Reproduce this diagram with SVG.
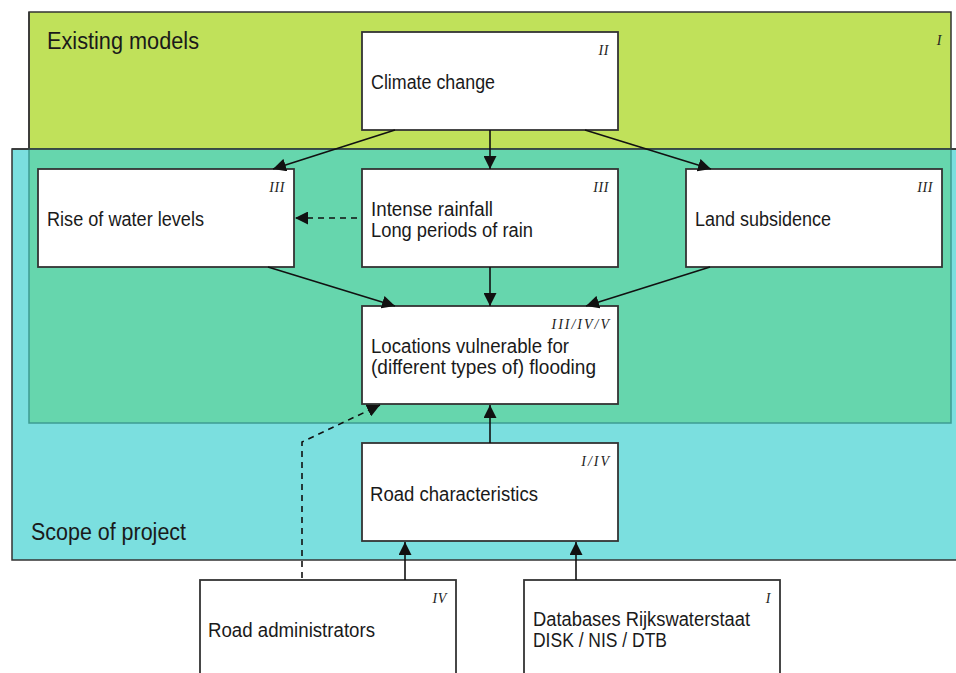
<svg xmlns="http://www.w3.org/2000/svg" width="956" height="673" viewBox="0 0 956 673">
  <defs>
    <marker id="arrow" markerUnits="userSpaceOnUse" markerWidth="14" markerHeight="13" refX="13" refY="6.5" orient="auto">
      <path d="M0,0 L13,6.5 L0,13 z" fill="#111"/>
    </marker>
    <style>
      .area-scope { fill: #7bdfdf; stroke: #333; stroke-width: 1.5; }
      .area-models { fill: #c0e15a; stroke: #333; stroke-width: 1.5; }
      .area-overlap { fill: #66d6ad; stroke: #3e9c92; stroke-width: 1.5; }
      .box { fill: #fff; stroke: #333; stroke-width: 1.8; }
      .label { font-family: "Liberation Sans", Arial, sans-serif; font-size: 20px; fill: #1a1a1a; }
      .area-label { font-family: "Liberation Sans", Arial, sans-serif; font-size: 23px; fill: #1a1a1a; }
      .tag { font-family: "Liberation Serif", "Times New Roman", serif; font-style: italic; font-size: 14px; fill: #222; text-anchor: end; letter-spacing: 0.6px; }
      .tag-wide { letter-spacing: 2px; }
      .link { fill: none; stroke: #111; stroke-width: 1.6; marker-end: url(#arrow); }
      .dashed { stroke-dasharray: 6 5; }
    </style>
  </defs>

  <!-- Background areas -->
  <g id="scope-area">
    <rect class="area-scope" x="12" y="149" width="960" height="411"/>
  </g>
  <g id="models-area">
    <rect class="area-models" x="29" y="12" width="922" height="137"/>
    <line x1="29" y1="12" x2="29" y2="149" stroke="#333" stroke-width="1.5"/>
    <rect class="area-overlap" x="29" y="149" width="922" height="274"/>
    <line x1="12" y1="149" x2="956" y2="149" stroke="#333" stroke-width="1.5"/>
    <text class="area-label" x="47" y="49" textLength="152" lengthAdjust="spacingAndGlyphs">Existing models</text>
    <text class="tag" x="942" y="45">I</text>
  </g>
  <text class="area-label" x="31" y="540" textLength="155" lengthAdjust="spacingAndGlyphs">Scope of project</text>

  <!-- Nodes -->
  <g id="climate-change">
    <rect class="box" x="362" y="32" width="256" height="98"/>
    <text class="tag" x="609" y="55">II</text>
    <text class="label" x="371" y="89" textLength="124" lengthAdjust="spacingAndGlyphs">Climate change</text>
  </g>

  <g id="rise-water-levels">
    <rect class="box" x="38" y="169" width="256" height="98"/>
    <text class="tag" x="285" y="192">III</text>
    <text class="label" x="47" y="226" textLength="157" lengthAdjust="spacingAndGlyphs">Rise of water levels</text>
  </g>

  <g id="intense-rainfall">
    <rect class="box" x="362" y="169" width="256" height="98"/>
    <text class="tag" x="609" y="192">III</text>
    <text class="label" x="371" y="216" textLength="122" lengthAdjust="spacingAndGlyphs">Intense rainfall</text>
    <text class="label" x="371" y="237" textLength="162" lengthAdjust="spacingAndGlyphs">Long periods of rain</text>
  </g>

  <g id="land-subsidence">
    <rect class="box" x="686" y="169" width="256" height="98"/>
    <text class="tag" x="933" y="192">III</text>
    <text class="label" x="695" y="226" textLength="136" lengthAdjust="spacingAndGlyphs">Land subsidence</text>
  </g>

  <g id="vulnerable-locations">
    <rect class="box" x="362" y="306" width="256" height="98"/>
    <text class="tag tag-wide" x="611" y="329">III/IV/V</text>
    <text class="label" x="371" y="353" textLength="198" lengthAdjust="spacingAndGlyphs">Locations vulnerable for</text>
    <text class="label" x="371" y="374" textLength="225" lengthAdjust="spacingAndGlyphs">(different types of) flooding</text>
  </g>

  <g id="road-characteristics">
    <rect class="box" x="362" y="443" width="256" height="98"/>
    <text class="tag tag-wide" x="611" y="466">I/IV</text>
    <text class="label" x="370" y="501" textLength="168" lengthAdjust="spacingAndGlyphs">Road characteristics</text>
  </g>

  <g id="road-administrators">
    <rect class="box" x="200" y="580" width="256" height="120"/>
    <text class="tag" x="447" y="603">IV</text>
    <text class="label" x="208" y="637" textLength="167" lengthAdjust="spacingAndGlyphs">Road administrators</text>
  </g>

  <g id="databases-rws">
    <rect class="box" x="524" y="580" width="256" height="120"/>
    <text class="tag" x="771" y="603">I</text>
    <text class="label" x="533" y="626" textLength="217" lengthAdjust="spacingAndGlyphs">Databases Rijkswaterstaat</text>
    <text class="label" x="533" y="647" textLength="134" lengthAdjust="spacingAndGlyphs">DISK / NIS / DTB</text>
  </g>

  <!-- Connectors -->
  <g id="connectors">
    <line class="link" x1="395" y1="130" x2="273" y2="169"/>
    <line class="link" x1="490" y1="130" x2="490" y2="169"/>
    <line class="link" x1="585" y1="130" x2="711" y2="169"/>
    <line class="link dashed" x1="357" y1="218" x2="295" y2="218"/>
    <line class="link" x1="268" y1="267" x2="395" y2="306"/>
    <line class="link" x1="490" y1="267" x2="490" y2="306"/>
    <line class="link" x1="710" y1="267" x2="586" y2="306"/>
    <line class="link" x1="490" y1="443" x2="490" y2="405"/>
    <path class="link dashed" d="M302,578 L302,442 L380,405"/>
    <line class="link" x1="405" y1="580" x2="405" y2="542"/>
    <line class="link" x1="576" y1="580" x2="576" y2="542"/>
  </g>
</svg>
